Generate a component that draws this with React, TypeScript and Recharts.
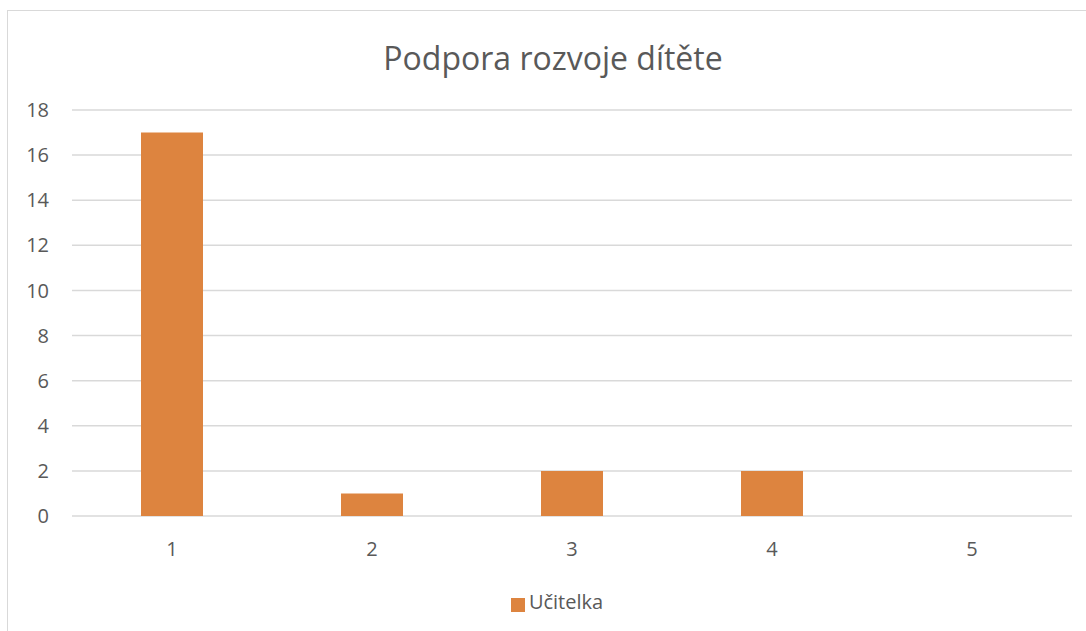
import { Bar, BarChart, CartesianGrid, Legend, XAxis, YAxis } from "recharts";

const categories = ["1", "2", "3", "4", "5"];
const ucitelka = [17, 1, 2, 2, 0];
const yTicks = [0, 2, 4, 6, 8, 10, 12, 14, 16, 18];

const data = categories.map((c, i) => ({ name: c, value: ucitelka[i] }));

const ORANGE = "#DD843F";
const TEXT = "#595959";
const GRID = "#D9D9D9";
const FONT = "'Open Sans', sans-serif";

export default function App() {
  return (
    <div
      style={{
        position: "absolute",
        left: 7,
        top: 10,
        width: 1090,
        height: 630,
        border: `1.5px solid ${GRID}`,
        boxSizing: "border-box",
        background: "#fff",
        fontFamily: FONT,
      }}
    >
      <div
        style={{
          position: "absolute",
          top: 31,
          left: 0,
          width: 1090,
          textAlign: "center",
          fontSize: 32,
          lineHeight: "32px",
          color: TEXT,
        }}
      >
        Podpora rozvoje dítěte
      </div>
      <BarChart
        width={1088}
        height={627}
        data={data}
        margin={{ top: 99, right: 24, left: 0, bottom: 23 }}
        barSize={62}
      >
        <CartesianGrid vertical={false} stroke={GRID} strokeWidth={1.5} />
        <XAxis
          dataKey="name"
          axisLine={false}
          tickLine={false}
          tickSize={0}
          tickMargin={26}
          height={72}
          tick={{ fill: TEXT, fontSize: 20, fontFamily: FONT }}
        />
        <YAxis
          domain={[0, 18]}
          ticks={yTicks}
          axisLine={false}
          tickLine={false}
          tickSize={0}
          tickMargin={23}
          width={64}
          tick={{ fill: TEXT, fontSize: 20, fontFamily: FONT }}
        />
        <Legend
          verticalAlign="bottom"
          iconType="square"
          iconSize={14}
          wrapperStyle={{ left: 22 }}
          formatter={(v) => <span style={{ color: TEXT, fontSize: 20 }}>{v}</span>}
        />
        <Bar dataKey="value" name="Učitelka" fill={ORANGE} isAnimationActive={false} />
      </BarChart>
    </div>
  );
}
